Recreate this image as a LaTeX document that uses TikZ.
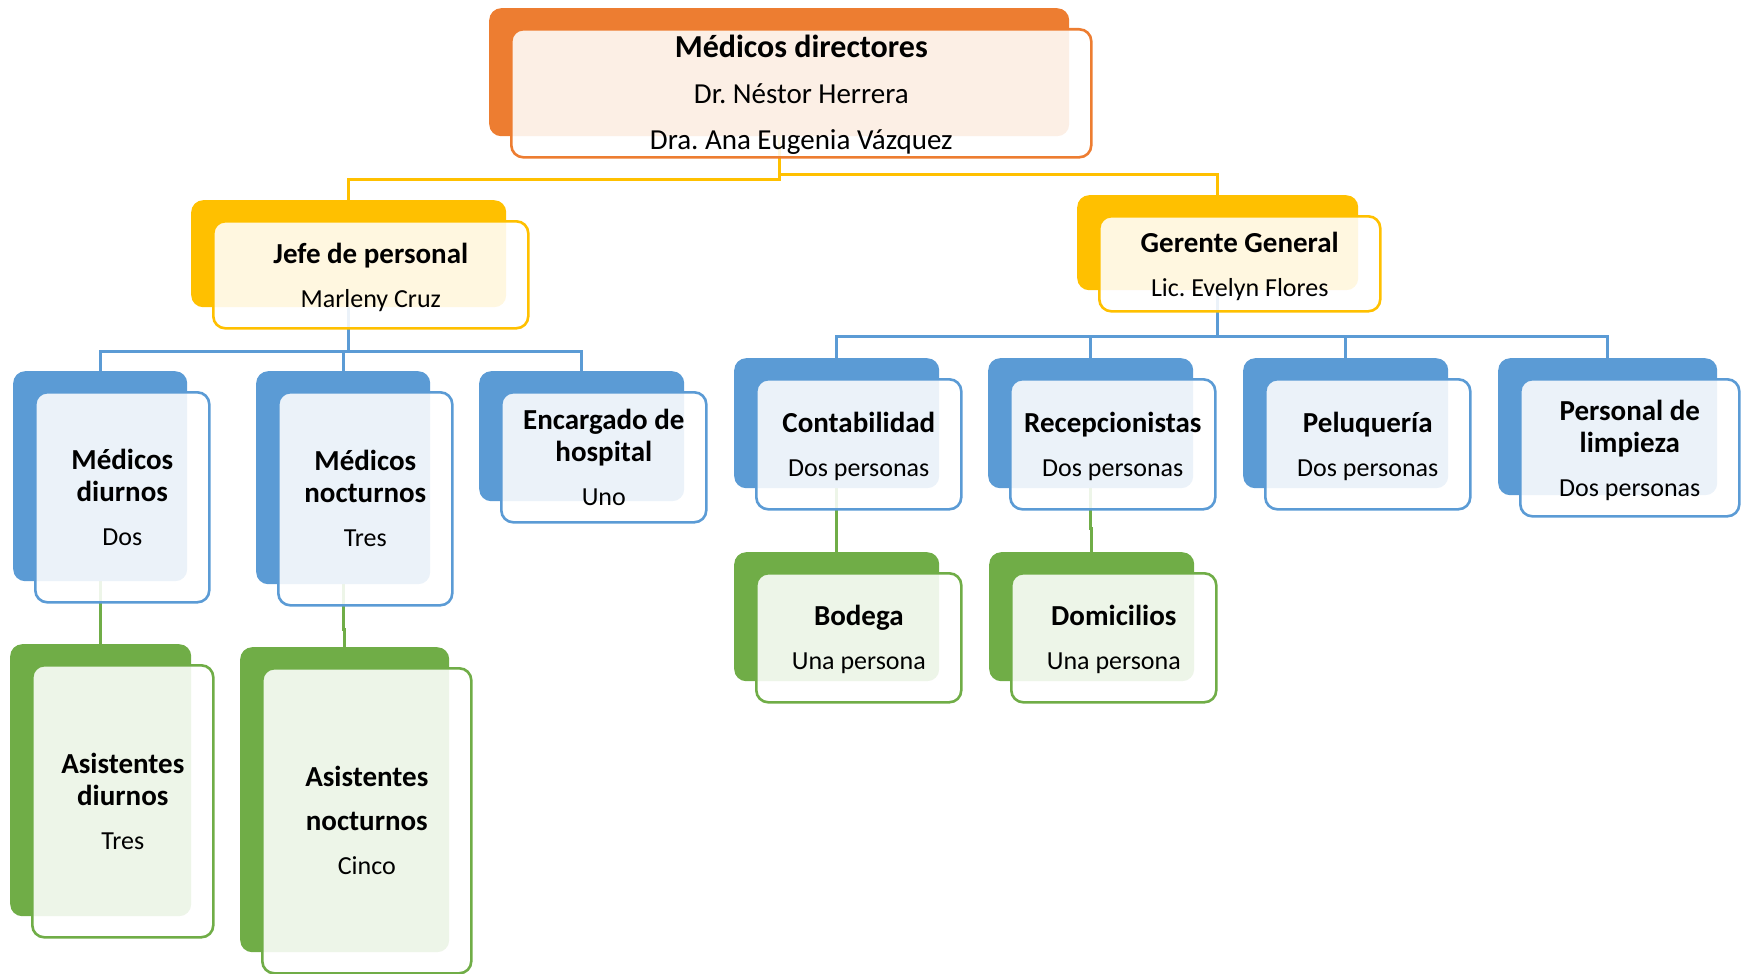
\documentclass[tikz,border=0pt]{standalone}
\usepackage{fontspec}
\setmainfont{Carlito}
\frenchspacing
\usetikzlibrary{calc}
\definecolor{cOr}{HTML}{ED7D31}
\definecolor{cYe}{HTML}{FFC000}
\definecolor{cBl}{HTML}{5B9BD5}
\definecolor{cGr}{HTML}{70AD47}
\newcommand\tHead[1]{{\fontsize{29}{32}\selectfont\bfseries #1}}
\newcommand\tSub[1]{{\fontsize{26}{32}\selectfont #1}}
\tikzset{
  backbox/.style={fill=#1, draw=none, rounded corners=12pt, anchor=north west, inner sep=0pt},
  frontbox/.style={fill=white, fill opacity=0.88, draw=#1, line width=2.6pt,
    rounded corners=12pt, anchor=north west, inner sep=0pt},
  boxtext/.style={inner sep=0pt, align=center, font=\fontsize{26}{44}\selectfont},
  conn/.style={draw=#1, line width=2.6pt},
}
% name, colour, x, y, w, h, text shift, text
\newcommand\obox[8]{%
  \node[backbox=#2, minimum width=#5pt, minimum height=#6pt] (#1-b) at (#3,#4) {};
  \node[frontbox=#2, minimum width=#5pt, minimum height=#6pt] (#1) at (#3+21,#4+20) {};
  \node[boxtext] (#1-t) at ([yshift=#7pt]#1.center) {#8};
}
\begin{document}
\begin{tikzpicture}[x=1pt,y=-1pt]
\useasboundingbox (0,0) rectangle (1741,974);
% anchors for connectors (same geometry as back boxes, invisible)
\begin{scope}
\node[backbox=white, opacity=0, minimum width=580pt, minimum height=128pt] (top-a) at (489,8) {};
\node[backbox=white, opacity=0, minimum width=315pt, minimum height=107pt] (jefe-a) at (191,200) {};
\node[backbox=white, opacity=0, minimum width=281pt, minimum height=95pt] (ger-a) at (1077,195) {};
\node[backbox=white, opacity=0, minimum width=174pt, minimum height=210pt] (diu-a) at (13,371) {};
\node[backbox=white, opacity=0, minimum width=174pt, minimum height=213pt] (noc-a) at (256,371) {};
\node[backbox=white, opacity=0, minimum width=205pt, minimum height=130pt] (enc-a) at (479,371) {};
\node[backbox=white, opacity=0, minimum width=205pt, minimum height=130pt] (con-a) at (734,358) {};
\node[backbox=white, opacity=0, minimum width=205pt, minimum height=130pt] (rec-a) at (988,358) {};
\node[backbox=white, opacity=0, minimum width=205pt, minimum height=130pt] (pel-a) at (1243,358) {};
\node[backbox=white, opacity=0, minimum width=219pt, minimum height=137pt] (lim-a) at (1498,358) {};
\node[backbox=white, opacity=0, minimum width=205pt, minimum height=129pt] (bod-a) at (734,552) {};
\node[backbox=white, opacity=0, minimum width=205pt, minimum height=129pt] (dom-a) at (989,552) {};
\node[backbox=white, opacity=0, minimum width=181pt, minimum height=272pt] (asd-a) at (10,644) {};
\node[backbox=white, opacity=0, minimum width=209pt, minimum height=305pt] (asn-a) at (240,647) {};
\end{scope}
% connectors
\draw[conn=cYe] (top-a.south) -- ++(0,43) -| (jefe-a.north);
\draw[conn=cYe] (top-a.south) -- ++(0,38) -| (ger-a.north);
\draw[conn=cBl] (jefe-a.south) -- ++(0,44) -| (diu-a.north);
\draw[conn=cBl] (jefe-a.south) -- ++(0,44) -| (noc-a.north);
\draw[conn=cBl] (jefe-a.south) -- ++(0,44) -| (enc-a.north);
\draw[conn=cBl] (ger-a.south) -- ++(0,46) -| (con-a.north);
\draw[conn=cBl] (ger-a.south) -- ++(0,46) -| (rec-a.north);
\draw[conn=cBl] (ger-a.south) -- ++(0,46) -| (pel-a.north);
\draw[conn=cBl] (ger-a.south) -- ++(0,46) -| (lim-a.north);
\draw[conn=cGr] (diu-a.south) -- (diu-a.south |- asd-a.north);
\draw[conn=cGr] (noc-a.south) -- ++(0,45) -| (asn-a.north);
\draw[conn=cGr] (con-a.south) -- (con-a.south |- bod-a.north);
\draw[conn=cGr] (rec-a.south) -- ++(0,40) -| (dom-a.north);
% boxes
\obox{top}{cOr}{489}{8}{580}{128}{-1.5}{{\fontsize{32}{46}\selectfont\bfseries Médicos directores}\\[2pt]
  \fontsize{29}{46}\selectfont Dr. Néstor Herrera\\[2pt]\fontsize{29}{46}\selectfont Dra. Ana Eugenia Vázquez}
\obox{jefe}{cYe}{191}{200}{315}{107}{-3}{\tHead{Jefe de personal}\\\tSub{Marleny Cruz}}
\obox{ger}{cYe}{1077}{195}{281}{95}{-2.5}{\tHead{Gerente General}\\\tSub{Lic. Evelyn Flores}}
\obox{diu}{cBl}{13}{371}{174}{210}{0}{\tHead{Médicos}\\[-12pt]\tHead{diurnos}\\\tSub{Dos}}
\obox{noc}{cBl}{256}{371}{174}{213}{0}{\tHead{Médicos}\\[-12pt]\tHead{nocturnos}\\\tSub{Tres}}
\obox{enc}{cBl}{479}{371}{205}{130}{0}{\tHead{Encargado de}\\[-12pt]\tHead{hospital}\\\tSub{Uno}}
\obox{con}{cBl}{734}{358}{205}{130}{-2.5}{\tHead{Contabilidad}\\\tSub{Dos personas}}
\obox{rec}{cBl}{988}{358}{205}{130}{-2.5}{\tHead{Recepcionistas}\\\tSub{Dos personas}}
\obox{pel}{cBl}{1243}{358}{205}{130}{-2.5}{\tHead{Peluquería}\\\tSub{Dos personas}}
\obox{lim}{cBl}{1498}{358}{219}{137}{-2.5}{\tHead{Personal de}\\[-12pt]\tHead{limpieza}\\\tSub{Dos personas}}
\obox{bod}{cGr}{734}{552}{205}{129}{-2}{\tHead{Bodega}\\\tSub{Una persona}}
\obox{dom}{cGr}{989}{552}{205}{129}{-2}{\tHead{Domicilios}\\\tSub{Una persona}}
\obox{asd}{cGr}{10}{644}{181}{272}{0}{\tHead{Asistentes}\\[-12pt]\tHead{diurnos}\\\tSub{Tres}}
\obox{asn}{cGr}{240}{647}{209}{305}{0}{\tHead{Asistentes}\\\tHead{nocturnos}\\\tSub{Cinco}}
\end{tikzpicture}
\end{document}
